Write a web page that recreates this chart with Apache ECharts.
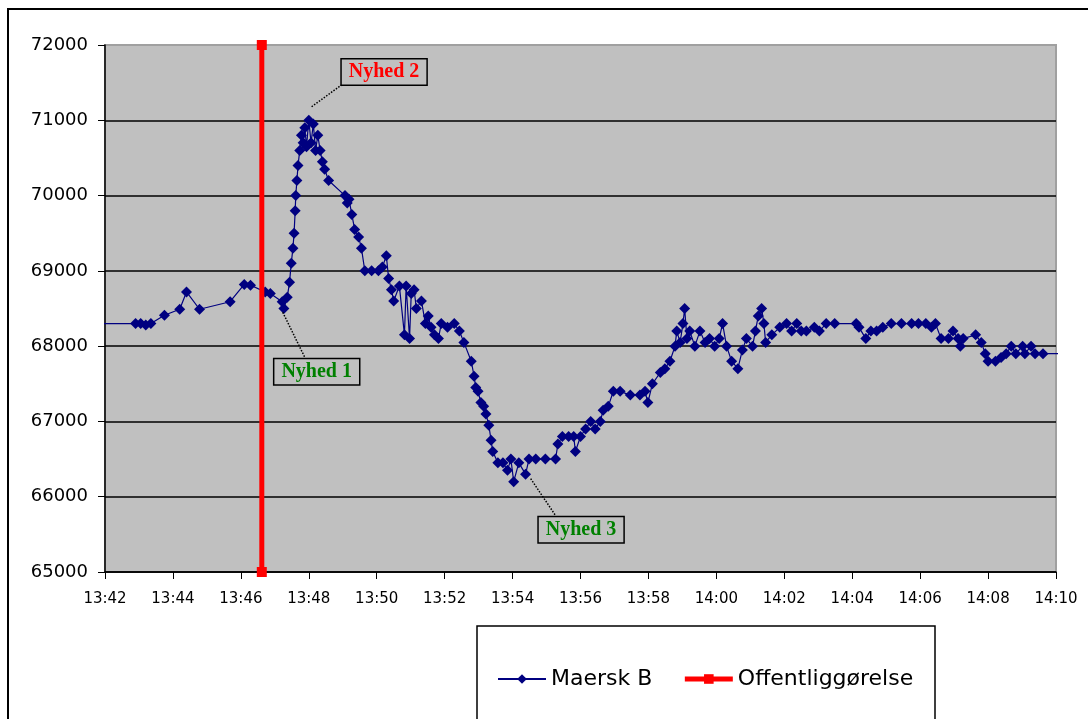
<!DOCTYPE html>
<html>
<head>
<meta charset="utf-8">
<script src="https://cdn.jsdelivr.net/npm/echarts@6/dist/echarts.min.js"></script>
<style>
html, body { margin: 0; padding: 0; background: #fff; }
#chart { width: 1088px; height: 719px; }
</style>
</head>
<body>
<div id="chart"></div>
<script>
// Maersk B kurs, klokkeslæt og pris
let times = ['13:40:00','13:42:54','13:43:03','13:43:12','13:43:21','13:43:45','13:44:12','13:44:24','13:44:47','13:45:41',
    '13:46:06','13:46:17','13:46:43','13:46:52','13:47:13','13:47:16','13:47:22','13:47:26','13:47:29','13:47:32',
    '13:47:34','13:47:36','13:47:37','13:47:39','13:47:41','13:47:44','13:47:47','13:47:50','13:47:53','13:47:56',
    '13:48:00','13:48:04','13:48:08','13:48:12','13:48:16','13:48:20','13:48:24','13:48:28','13:48:35','13:49:04',
    '13:49:08','13:49:11','13:49:16','13:49:21','13:49:28','13:49:33','13:49:39','13:49:51','13:50:03','13:50:10',
    '13:50:17','13:50:21','13:50:26','13:50:30','13:50:40','13:50:49','13:50:52','13:50:58','13:51:01','13:51:06',
    '13:51:10','13:51:19','13:51:26','13:51:31','13:51:36','13:51:42','13:51:49','13:51:54','13:52:05','13:52:17',
    '13:52:26','13:52:34','13:52:47','13:52:52','13:52:55','13:52:59','13:53:04','13:53:09','13:53:13','13:53:18',
    '13:53:22','13:53:25','13:53:34','13:53:43','13:53:51','13:53:57','13:54:02','13:54:11','13:54:23','13:54:29',
    '13:54:41','13:54:58','13:55:16','13:55:20','13:55:28','13:55:39','13:55:48','13:55:51','13:56:00','13:56:09',
    '13:56:18','13:56:26','13:56:35','13:56:40','13:56:49','13:56:58','13:57:10','13:57:28','13:57:45','13:57:54',
    '13:57:59','13:58:07','13:58:21','13:58:29','13:58:38','13:58:47','13:58:50','13:58:56','13:59:01','13:59:04',
    '13:59:08','13:59:13','13:59:22','13:59:31','13:59:40','13:59:48','13:59:57','14:00:05','14:00:11','14:00:18',
    '14:00:27','14:00:38','14:00:46','14:00:53','14:01:04','14:01:09','14:01:14','14:01:20','14:01:24','14:01:27',
    '14:01:38','14:01:52','14:02:04','14:02:13','14:02:22','14:02:30','14:02:39','14:02:53','14:03:02','14:03:14',
    '14:03:29','14:04:07','14:04:12','14:04:24','14:04:33','14:04:43','14:04:54','14:05:09','14:05:27','14:05:45',
    '14:05:57','14:06:10','14:06:20','14:06:27','14:06:37','14:06:50','14:06:58','14:07:07','14:07:11','14:07:16',
    '14:07:38','14:07:48','14:07:55','14:08:00','14:08:13','14:08:23','14:08:32','14:08:41','14:08:49','14:09:01',
    '14:09:05','14:09:16','14:09:23','14:09:37','14:11:00']
let prices = [68300,68300,68300,68280,68300,68410,68490,68720,68490,68590,
    68820,68810,68720,68700,68590,68500,68650,68850,69100,69300,
    69500,69800,70000,70200,70400,70600,70800,70700,70900,70650,
    71000,70700,70950,70600,70800,70600,70450,70350,70200,70000,
    69900,69950,69750,69550,69450,69300,69000,69000,69000,69050,
    69200,68900,68750,68600,68800,68150,68800,68100,68700,68750,
    68500,68600,68300,68400,68250,68150,68100,68300,68250,68300,
    68200,68050,67800,67600,67450,67400,67250,67200,67100,66950,
    66750,66600,66450,66450,66350,66500,66200,66450,66300,66500,
    66500,66500,66500,66700,66800,66800,66800,66600,66800,66900,
    67000,66900,67000,67150,67200,67400,67400,67350,67350,67400,
    67250,67500,67650,67700,67800,68000,68200,68050,68300,68500,
    68100,68200,68000,68200,68050,68100,68000,68100,68300,68000,
    67800,67700,67950,68100,68000,68200,68400,68500,68300,68050,
    68150,68250,68300,68200,68300,68200,68200,68250,68200,68300,
    68300,68300,68250,68100,68200,68200,68250,68300,68300,68300,
    68300,68300,68250,68300,68100,68100,68200,68100,68000,68100,
    68150,68050,67900,67800,67800,67850,67900,68000,67900,68000,
    67900,68000,67900,67900,67900]

// offentliggørelse (lodret linje)
let releaseTime = '13:46:37'
let releaseRange = [65000, 72000]

// nyheder: tekst, punkt på kurven, knæk på lederlinjen, boksens midte
let noteNames = ['Nyhed 1', 'Nyhed 2', 'Nyhed 3']
let noteColors = ['#008000', '#ff0000', '#008000']
let noteFrom = [['13:47:14', 68450], ['13:48:05', 71180], ['13:54:32', 66240]]
let noteTo = [['13:47:53', 67850], ['13:48:58', 71470], ['13:55:15', 65760]]
let noteBox = [['13:48:14', 67660], ['13:50:13', 71640], ['13:56:01', 65560]]

let xTicks = ['13:42', '14:10']

let toMin = (s) => {
    let p = s.split(':').map(Number)
    return p[0] * 60 + p[1] + (p[2] || 0) / 60
}
let fmt = (v) => {
    let h = Math.floor(v / 60)
    let m = Math.round(v - h * 60)
    return h + ':' + (m < 10 ? '0' + m : m)
}

let mainData = times.map((t, i) => [toMin(t), prices[i]])
let releaseData = releaseRange.map(v => [toMin(releaseTime), v])

let leaderLines = noteNames.map((n, i) => [
    { coord: [toMin(noteFrom[i][0]), noteFrom[i][1]] },
    { coord: [toMin(noteTo[i][0]), noteTo[i][1]] }
])
let noteLabels = noteNames.map((n, i) => ({
    name: n,
    coord: [toMin(noteBox[i][0]), noteBox[i][1]],
    label: { color: noteColors[i] }
}))

let mychart = echarts.init(document.getElementById('chart'))

let options = {
    backgroundColor: '#ffffff',
    animation: false,
    graphic: [
        {
            type: 'rect',
            shape: { x: 8, y: 9, width: 1200, height: 900 },
            style: { fill: 'none', stroke: '#000', lineWidth: 2 },
            z: -1
        },
        {
            type: 'rect',
            shape: { x: 477, y: 626, width: 458, height: 200 },
            style: { fill: '#fff', stroke: '#000', lineWidth: 1.5 },
            z: 0
        }
    ],
    grid: {
        left: 105,
        right: 32,
        top: 45,
        bottom: 147,
        show: true,
        backgroundColor: '#c0c0c0',
        borderColor: '#a0a0a0',
        borderWidth: 2
    },
    legend: {
        left: 492,
        top: 663,
        z: 5,
        itemWidth: 48,
        itemHeight: 12,
        itemGap: 30,
        textStyle: {
            fontFamily: 'DejaVu Sans',
            fontSize: 22,
            color: '#000'
        },
        data: [
            { name: 'Maersk B' },
            { name: 'Offentliggørelse', lineStyle: { width: 5 } }
        ]
    },
    xAxis: {
        type: 'value',
        min: toMin(xTicks[0]),
        max: toMin(xTicks[1]),
        interval: 2,
        axisLine: { lineStyle: { color: '#000', width: 1.5 } },
        axisTick: { inside: false, length: 7, lineStyle: { color: '#000' } },
        splitLine: { show: false },
        axisLabel: {
            formatter: fmt,
            margin: 20,
            color: '#000',
            fontFamily: 'DejaVu Sans',
            fontSize: 15
        }
    },
    yAxis: {
        type: 'value',
        min: 65000,
        max: 72000,
        interval: 1000,
        axisLine: { show: true, lineStyle: { color: '#000', width: 1.5 } },
        axisTick: { show: true, inside: false, length: 7, lineStyle: { color: '#000' } },
        splitLine: {
            lineStyle: {
                color: ['#000', '#000', '#000', '#000', '#000', '#000', '#000', '#a0a0a0'],
                width: 1.5
            }
        },
        axisLabel: {
            formatter: (v) => String(v),
            margin: 17,
            color: '#000',
            fontFamily: 'DejaVu Sans',
            fontSize: 18
        }
    },
    series: [
        {
            name: 'Maersk B',
            type: 'line',
            data: mainData,
            clip: true,
            symbol: 'diamond',
            symbolSize: 11,
            itemStyle: { color: '#000080' },
            lineStyle: { color: '#000080', width: 1.2 },
            z: 3,
            markLine: {
                silent: true,
                symbol: ['none', 'none'],
                lineStyle: { color: '#000', type: 'dotted', width: 1.5 },
                label: { show: false },
                data: leaderLines
            },
            markPoint: {
                silent: true,
                symbol: 'rect',
                symbolSize: 0,
                label: {
                    show: true,
                    position: 'inside',
                    formatter: '{b}',
                    fontFamily: 'Liberation Serif',
                    fontWeight: 'bold',
                    fontSize: 20,
                    backgroundColor: '#c0c0c0',
                    borderColor: '#000',
                    borderWidth: 1.5,
                    padding: [3, 7, 2, 7]
                },
                data: noteLabels
            }
        },
        {
            name: 'Offentliggørelse',
            type: 'line',
            data: releaseData,
            symbol: 'rect',
            symbolSize: 10,
            itemStyle: { color: '#ff0000' },
            lineStyle: { color: '#ff0000', width: 5 },
            z: 4
        }
    ]
}

mychart.setOption(options)
window.addEventListener('resize', () => {
    mychart?.resize()
})
</script>
</body>
</html>
